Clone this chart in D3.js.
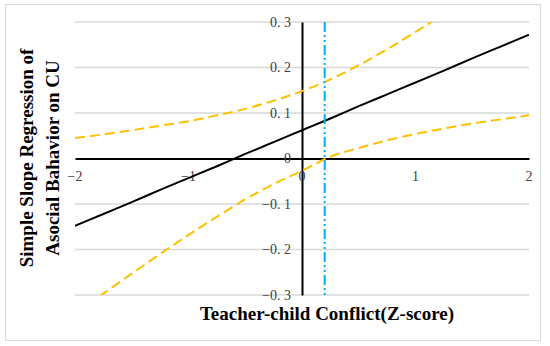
<!DOCTYPE html>
<html><head><meta charset="utf-8">
<script src="https://cdn.jsdelivr.net/npm/d3@7"></script>
<style>body{margin:0;background:#fff;}svg{display:block;}</style>
</head><body>
<script>
// ---- data ----
const xValues = [-2,-1.75,-1.5,-1.25,-1,-0.75,-0.5,-0.25,0,0.25,0.5,0.75,1,1.25,1.5,1.75,2];
const simpleSlope = [-0.148,-0.122,-0.096,-0.069,-0.043,-0.017,0.010,0.036,0.062,0.088,0.115,0.141,0.167,0.193,0.220,0.246,0.272];
const upperBound = [0.045,0.053,0.062,0.072,0.082,0.095,0.109,0.127,0.148,0.174,0.205,0.240,0.278,0.318,0.360,0.404,0.448];
const lowerBound = [-0.341,-0.297,-0.253,-0.210,-0.168,-0.128,-0.090,-0.056,-0.027,0.004,0.023,0.040,0.054,0.066,0.077,0.086,0.095];
const jnPoint = [0.2];
const xTicks = [-2,-1,0,1,2];
const xTickLabels = ["\u22122","\u22121","0","1","2"];
const yTicks = [0.3,0.2,0.1,0,-0.1,-0.2,-0.3];
const yTickLabels = ["0. 3","0. 2","0. 1","0","\u22120. 1","\u22120. 2","\u22120. 3"];
const xTitle = "Teacher-child Conflict(Z-score)";
const yTitleLines = ["Simple Slope Regression of","Asocial Bahavior on CU"];

// ---- drawing ----
const W = 550, H = 346;
const svg = d3.select("body").append("svg").attr("width", W).attr("height", H);
svg.append("rect").attr("x",5.5).attr("y",4.5).attr("width",535).attr("height",336)
  .attr("fill","#fff").attr("stroke","#d9d9d9").attr("stroke-width",1);

const x = d3.scaleLinear().domain([-2,2]).range([75,529]);
const y = d3.scaleLinear().domain([-0.3,0.3]).range([295,22]);

const serif = "'Liberation Serif','DejaVu Serif',serif";

// gridlines
svg.append("g").selectAll("line").data(yTicks.filter(d=>d!==0)).join("line")
  .attr("x1",x(-2)).attr("x2",x(2)).attr("y1",d=>y(d)).attr("y2",d=>y(d))
  .attr("stroke","#d9d9d9").attr("stroke-width",1.5);

// clip
svg.append("clipPath").attr("id","plot").append("rect")
  .attr("x",x(-2)).attr("y",y(0.3)).attr("width",x(2)-x(-2)).attr("height",y(-0.3)-y(0.3));

// axes lines
const xAxis = d3.axisBottom(x).tickValues([]).tickSize(0);
svg.append("g").attr("transform",`translate(0,${y(0)})`).call(xAxis)
  .call(g=>g.select(".domain").attr("stroke","#000").attr("stroke-width",2));
const yAxis = d3.axisLeft(y).tickValues([]).tickSize(0);
svg.append("g").attr("transform",`translate(${x(0)},0)`).call(yAxis)
  .call(g=>g.select(".domain").attr("stroke","#000").attr("stroke-width",2));

// tick labels
svg.append("g").selectAll("text").data(xTicks).join("text")
  .attr("x",d=>x(d)).attr("y",y(0)+22).attr("text-anchor","middle")
  .attr("font-family",serif).attr("font-size",14).attr("fill","#404040")
  .text((d,i)=>xTickLabels[i]);
svg.append("g").selectAll("text").data(yTicks).join("text")
  .attr("x",x(0)-11).attr("y",d=>y(d)).attr("dy","0.35em").attr("text-anchor","end")
  .attr("font-family",serif).attr("font-size",14).attr("fill","#404040")
  .text((d,i)=>yTickLabels[i]);

const pts = arr => xValues.map((v,i)=>[v,arr[i]]);
const line = d3.line().x(d=>x(d[0])).y(d=>y(d[1])).curve(d3.curveMonotoneX);
const plot = svg.append("g").attr("clip-path","url(#plot)");

plot.append("path").attr("d",line(pts(upperBound))).attr("fill","none")
  .attr("stroke","#FFC000").attr("stroke-width",2).attr("stroke-dasharray","10,5");
plot.append("path").attr("d",line(pts(lowerBound))).attr("fill","none")
  .attr("stroke","#FFC000").attr("stroke-width",2).attr("stroke-dasharray","10,5");
plot.append("path").attr("d",line(pts(simpleSlope))).attr("fill","none")
  .attr("stroke","#000").attr("stroke-width",2);

// Johnson-Neyman line
plot.selectAll(".jn").data(jnPoint).join("line").attr("class","jn")
  .attr("x1",d=>x(d)).attr("x2",d=>x(d)).attr("y1",y(0.3)).attr("y2",y(-0.3))
  .attr("stroke","#00B0F0").attr("stroke-width",2).attr("stroke-dasharray","10,3,2,3,2,3");

// titles
svg.append("text").attr("x",327).attr("y",320).attr("text-anchor","middle")
  .attr("font-family",serif).attr("font-weight","bold").attr("font-size",19).attr("fill","#000")
  .text(xTitle);
const yt = svg.append("text").attr("transform","translate(33,158) rotate(-90)")
  .attr("text-anchor","middle").attr("font-family",serif).attr("font-weight","bold")
  .attr("font-size",19).attr("fill","#000");
yt.selectAll("tspan").data(yTitleLines).join("tspan")
  .attr("x",0).attr("y",(d,i)=> i===0 ? 0 : 26).text(d=>d);
</script>
</body></html>
